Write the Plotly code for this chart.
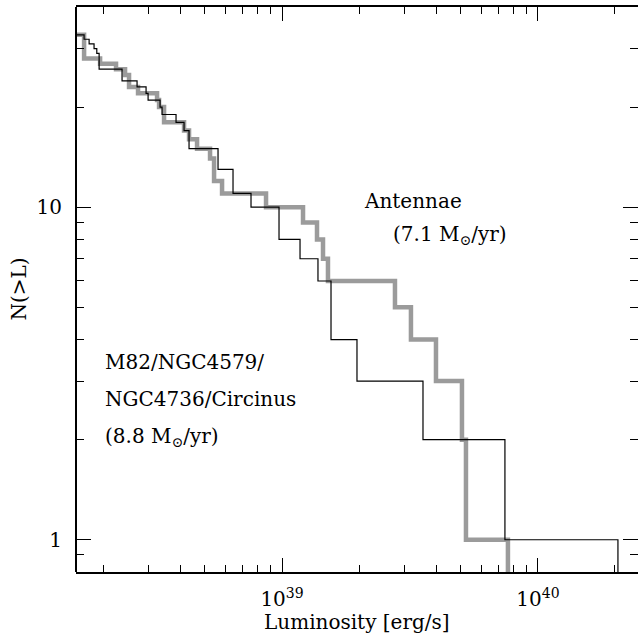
import numpy as np
import plotly.graph_objects as go

# Cumulative luminosity functions N(>L): luminosity at which each count step drops,
# and the count level reached after that step.
m82_start_count = 33
m82_step_L = [1.685e38, 1.763e38, 1.843e38, 1.889e38, 1.929e38, 2.371e38, 2.714e38,
              2.943e38, 2.997e38, 3.338e38, 3.398e38, 3.854e38, 4.142e38, 4.332e38,
              5.623e38, 6.435e38, 7.566e38, 9.734e38, 1.176e39, 1.382e39, 1.554e39,
              1.963e39, 3.555e39, 7.431e39, 2.054e40]
m82_step_N = [32, 31, 30, 29, 26, 24, 23, 22, 21, 20, 19, 18, 17, 15, 13, 11, 10,
              8, 7, 6, 4, 3, 2, 1, 0]

ant_start_count = 33
ant_step_L = [1.685e38, 1.946e38, 2.246e38, 2.436e38, 2.525e38, 2.738e38, 3.249e38,
              3.308e38, 3.460e38, 4.142e38, 4.332e38, 4.656e38, 5.233e38, 5.426e38,
              5.830e38, 8.660e38, 1.208e39, 1.370e39, 1.446e39, 1.512e39, 2.763e39,
              3.190e39, 3.996e39, 5.048e39, 5.233e39, 7.634e39]
ant_step_N = [28, 27, 26, 25, 23, 22, 21, 20, 18, 17, 16, 15, 14, 12, 11, 10, 9,
              8, 7, 6, 5, 4, 3, 2, 1, 0]

x_major = [1e39, 1e40]
x_major_text = ["10<sup>39</sup>", "10<sup>40</sup>"]
y_major = [1, 10]
y_major_text = ["1", "10"]

# axis limits (log10 units)
X_RANGE = [38.195, 40.391]
Y_RANGE = [np.log10(0.8), np.log10(40)]

x_minor = [m * 10.0 ** e for e in (38, 39) for m in range(2, 10)] + [2e40]
y_minor = [0.8, 0.9] + [m for m in range(2, 10)] + [20, 30, 40]

FONT = "DejaVu Serif"


def step_xy(start_count, step_L, step_N):
    # start the curve at the left axis edge; a zero count is drawn off the bottom of the log axis
    xs = [10 ** X_RANGE[0]] + list(step_L)
    ys = [start_count] + [n if n > 0 else 0.05 for n in step_N]
    return xs, ys


fig = go.Figure()

# Antennae on the base axes (major ticks), the combined sample on the overlay axes (minor ticks)
ax, ay = step_xy(ant_start_count, ant_step_L, ant_step_N)
fig.add_trace(go.Scatter(x=ax, y=ay, mode="lines", line_shape="hv",
                         line=dict(color="rgb(155,155,155)", width=4.5),
                         name="Antennae", showlegend=False,
                         xaxis="x", yaxis="y"))

mx, my = step_xy(m82_start_count, m82_step_L, m82_step_N)
fig.add_trace(go.Scatter(x=mx, y=my, mode="lines", line_shape="hv",
                         line=dict(color="black", width=1.2),
                         name="M82/NGC4579/NGC4736/Circinus", showlegend=False,
                         xaxis="x2", yaxis="y2"))

tickfont = dict(family=FONT, size=20, color="black")
common = dict(type="log", showgrid=False, zeroline=False,
              ticks="inside", tickwidth=1, tickcolor="black", tickmode="array")

fig.update_layout(
    width=638, height=635,
    margin=dict(l=76, r=0, t=7, b=63),
    paper_bgcolor="white", plot_bgcolor="white",
    showlegend=False,
    font=dict(family=FONT, size=20, color="black"),
    xaxis=dict(common, range=X_RANGE, anchor="y",
               showline=True, linecolor="black", linewidth=2, mirror="ticks",
               ticklen=14, tickvals=x_major, ticktext=x_major_text,
               tickfont=tickfont, ticklabelstandoff=8),
    xaxis2=dict(common, range=X_RANGE, overlaying="x", side="bottom", anchor="y2",
                showline=False, mirror="ticks", showticklabels=False,
                ticklen=7, tickvals=x_minor),
    yaxis=dict(common, range=Y_RANGE, anchor="x",
               showline=False, mirror="ticks",
               ticklen=15, tickvals=y_major, ticktext=y_major_text,
               tickfont=tickfont, ticklabelstandoff=13),
    yaxis2=dict(common, range=Y_RANGE, overlaying="y", side="left", anchor="x2",
                showline=False, mirror="ticks", showticklabels=False,
                ticklen=8, tickvals=y_minor),
)

# left frame line
fig.add_shape(type="line", xref="paper", yref="paper", x0=0, x1=0, y0=0, y1=1,
              line=dict(color="black", width=2))

# axis titles
fig.add_annotation(text="Luminosity [erg/s]", xref="paper", yref="paper",
                   x=0.5, y=0, yshift=-50, showarrow=False,
                   xanchor="center", yanchor="middle", font=dict(size=20))
fig.add_annotation(text="N(>L)", xref="paper", yref="paper",
                   x=0, y=0.5, xshift=-58, textangle=-90, showarrow=False,
                   xanchor="center", yanchor="middle", font=dict(size=20))

# sample labels
fig.add_annotation(text="Antennae", xref="paper", yref="paper",
                   x=0.5996, y=0.6566, showarrow=False,
                   xanchor="center", yanchor="middle", font=dict(size=20))
fig.add_annotation(text="(7.1 M<sub>⊙</sub>/yr)", xref="paper", yref="paper",
                   x=0.6655, y=0.5965, showarrow=False,
                   xanchor="center", yanchor="middle", font=dict(size=20))
for txt, yp in [("M82/NGC4579/", 0.3717),
                ("NGC4736/Circinus", 0.3062),
                ("(8.8 M<sub>⊙</sub>/yr)", 0.2389)]:
    fig.add_annotation(text=txt, xref="paper", yref="paper",
                       x=0.048, y=yp, showarrow=False,
                       xanchor="left", yanchor="middle", align="left",
                       font=dict(size=20))

fig.write_html("out.html")
